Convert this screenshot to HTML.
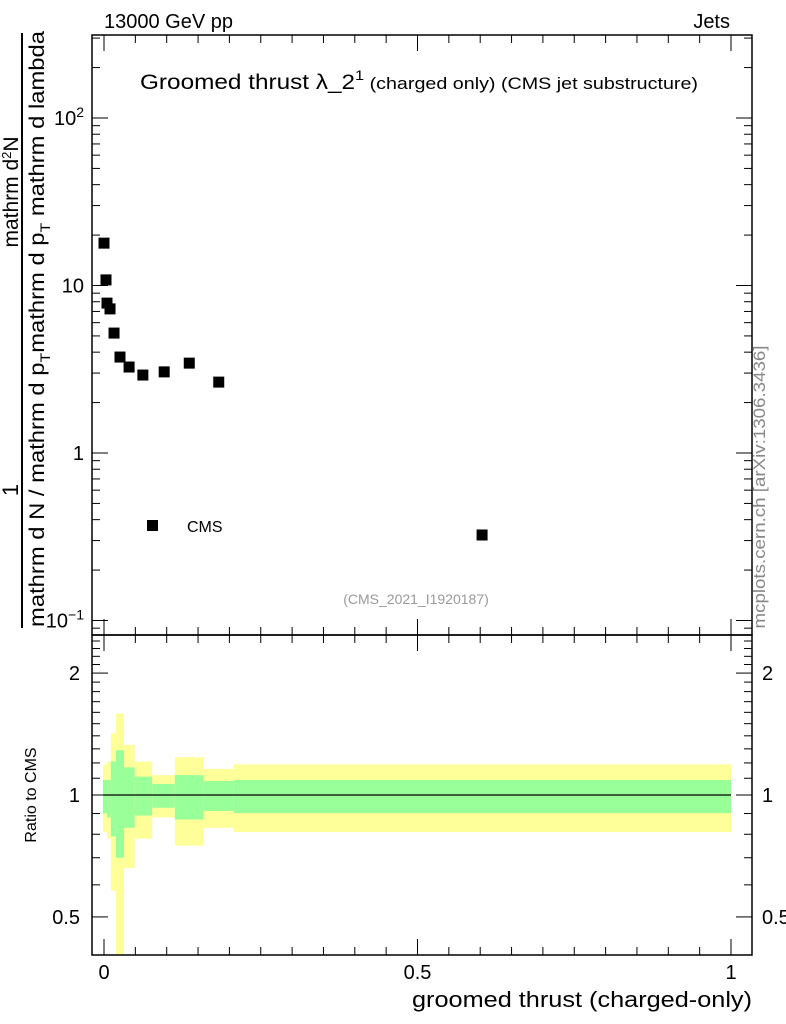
<!DOCTYPE html>
<html><head><meta charset="utf-8"><style>
body{margin:0;background:#fff;}
svg{display:block;font-family:"Liberation Sans",Arial,sans-serif;}
</style></head><body>
<svg id="c" width="786" height="1024" viewBox="0 0 786 1024">
<rect x="0" y="0" width="786" height="1024" fill="#fff"/>
<g id="bands"></g>
<g id="axes"></g>
<g id="pts"></g>
<text x="104" y="28" font-size="20">13000 GeV pp</text>
<text x="730" y="28" font-size="20" text-anchor="end">Jets</text>
<text x="140" y="89" font-size="21" textLength="558" lengthAdjust="spacingAndGlyphs">Groomed thrust λ_2<tspan dy="-9" font-size="14">1</tspan><tspan dy="9" font-size="17"> (charged only) (CMS jet substructure)</tspan></text>
<text x="416" y="604" font-size="14" fill="#999" text-anchor="middle">(CMS_2021_I1920187)</text>
<rect x="147" y="520" width="11" height="11" fill="#000"/>
<text x="187" y="532" font-size="16">CMS</text>
<text transform="translate(765,487) rotate(-90)" font-size="17" fill="#888" text-anchor="middle" textLength="283" lengthAdjust="spacingAndGlyphs">mcplots.cern.ch [arXiv:1306.3436]</text>
<line x1="22" y1="33" x2="22" y2="628" stroke="#000" stroke-width="2"/>
<text transform="translate(18,490) rotate(-90)" font-size="22" text-anchor="middle">1</text>
<text transform="translate(18,192) rotate(-90)" font-size="21" text-anchor="middle">mathrm d<tspan dy="-7" font-size="13">2</tspan><tspan dy="7">N</tspan></text>
<text transform="translate(44,329) rotate(-90)" font-size="21" text-anchor="middle" textLength="596" lengthAdjust="spacingAndGlyphs">mathrm d N / mathrm d p<tspan dy="6" font-size="14">T</tspan><tspan dy="-6">mathrm d p</tspan><tspan dy="6" font-size="14">T</tspan><tspan dy="-6"> mathrm d lambda</tspan></text>
<text transform="translate(36,795) rotate(-90)" font-size="16" text-anchor="middle">Ratio to CMS</text>
<text x="752" y="1007" font-size="22" text-anchor="end" textLength="340" lengthAdjust="spacingAndGlyphs">groomed thrust (charged-only)</text>
</svg>
<script>
const xVals=[0.0,0.0032,0.0048,0.0096,0.016,0.0255,0.04,0.062,0.096,0.136,0.183,0.603];
const yVals=[17.9,10.8,7.85,7.25,5.2,3.74,3.26,2.92,3.05,3.44,2.65,0.324];
const binEdges=[-0.0016,0.0048,0.011,0.019,0.032,0.049,0.077,0.113,0.159,0.207,1.0];
const yellowHi=[1.19,1.21,1.42,1.59,1.33,1.21,1.12,1.24,1.16,1.19];
const yellowLo=[0.81,0.78,0.58,0.35,0.66,0.78,0.88,0.75,0.83,0.81];
const greenHi=[1.09,1.09,1.21,1.29,1.17,1.11,1.065,1.12,1.083,1.089];
const greenLo=[0.90,0.88,0.79,0.70,0.83,0.89,0.93,0.87,0.913,0.902];
const mainTicks=[0.1,1,10,100];
const ratioTicks=[0.5,1,2];
const xTicks=[0,0.5,1];

const NS="http://www.w3.org/2000/svg";
const L=92,R=752,T=35,B=635,RB=955;
const X=v=>104+v*627;
const Y=v=>118-(Math.log10(v)-2)*167.5;
const RY=v=>795-Math.log10(v)*405;
function mk(tag,attrs,parent){const e=document.createElementNS(NS,tag);for(const k in attrs)e.setAttribute(k,attrs[k]);parent.appendChild(e);return e;}
const bands=document.getElementById('bands'),axes=document.getElementById('axes'),pts=document.getElementById('pts');

for(let i=0;i<binEdges.length-1;i++){
  const x0=X(binEdges[i]),x1=X(binEdges[i+1]);
  const yt=Math.max(RY(yellowHi[i]),B),yb=Math.min(RY(yellowLo[i]),RB);
  const y=mk('rect',{x:x0,y:yt,width:x1-x0,height:yb-yt,fill:'#ffff99'},bands);
  
  
  const gt=RY(greenHi[i]),gb=RY(greenLo[i]);
  const g=mk('rect',{x:x0,y:gt,width:x1-x0,height:gb-gt,fill:'#99ff99'},bands);
  
  
}
const ref=mk('line',{x1:X(binEdges[0]),x2:X(1),y1:RY(1),y2:RY(1),stroke:'#000','stroke-width':1.2},bands);



const f1=mk('rect',{x:L,y:T,width:R-L,height:B-T,fill:'none',stroke:'#000','stroke-width':1.5},axes);


const f2=mk('rect',{x:L,y:B,width:R-L,height:RB-B,fill:'none',stroke:'#000','stroke-width':1.5},axes);



for(let d=-2;d<=2;d++){for(let m=1;m<10;m++){const v=m*Math.pow(10,d);const y=Y(v);if(y<T||y>B)continue;const len=m==1?16:8;
  mk('line',{x1:L,x2:L+len,y1:y,y2:y,stroke:'#000'},axes);mk('line',{x1:R-len,x2:R,y1:y,y2:y,stroke:'#000'},axes);}}
mainTicks.forEach(v=>{const y=Y(v);
  const t=mk('text',{x:84,y:y+7,'font-size':20,'text-anchor':'end'},axes);
  
  
  if(v==1)t.textContent='1';else if(v==10)t.textContent='10';
  else{const e=Math.round(Math.log10(v));t.textContent='10';const s=document.createElementNS(NS,'tspan');s.setAttribute('dy','-8');s.setAttribute('font-size','14');s.textContent=String(e).replace('-','−');t.appendChild(s);}
});
for(let v=0.4;v<=2.5;v+=0.1){const y=RY(v);if(y<B||y>RB)continue;const major=[0.5,1,2].some(a=>Math.abs(a-v)<1e-6);const len=major?16:8;
  mk('line',{x1:L,x2:L+len,y1:y,y2:y,stroke:'#000'},axes);mk('line',{x1:R-len,x2:R,y1:y,y2:y,stroke:'#000'},axes);}
ratioTicks.forEach(v=>{const y=RY(v);
  const a=mk('text',{x:80,y:y+7,'font-size':20,'text-anchor':'end'},axes);a.textContent=String(v);
  
  
  const b=mk('text',{x:762,y:y+7,'font-size':20},axes);b.textContent=String(v);
  
  
});
for(let v=0;v<=1.0001;v+=0.05){const x=X(v);const major=Math.abs(v*2-Math.round(v*2))<1e-6;const len=major?16:8;
  mk('line',{x1:x,x2:x,y1:B,y2:B-len,stroke:'#000'},axes);mk('line',{x1:x,x2:x,y1:T,y2:T+len,stroke:'#000'},axes);
  mk('line',{x1:x,x2:x,y1:RB,y2:RB-len,stroke:'#000'},axes);mk('line',{x1:x,x2:x,y1:B,y2:B+len,stroke:'#000'},axes);}
xTicks.forEach(v=>{const t=mk('text',{x:X(v),y:979,'font-size':20,'text-anchor':'middle'},axes);t.textContent=String(v);
  
  });

xVals.forEach((v,i)=>{const p=mk('rect',{x:X(v)-5.5,y:Y(yVals[i])-5.5,width:11,height:11,fill:'#000'},pts);
  
  });
</script>
</body></html>
